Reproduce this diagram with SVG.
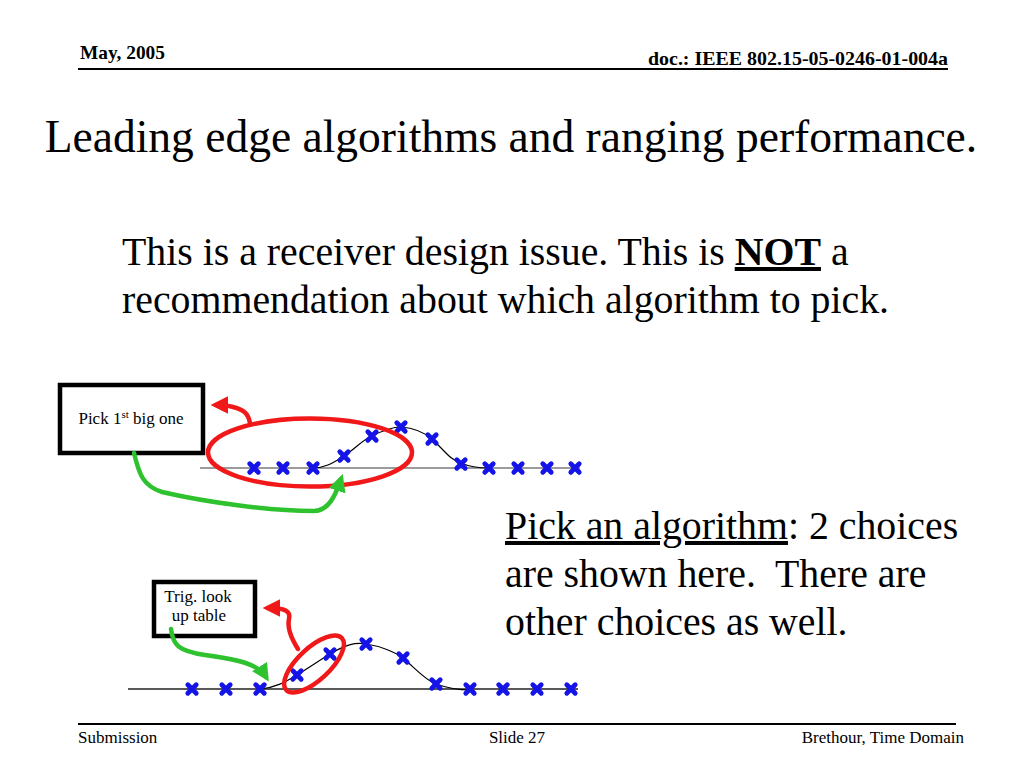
<svg xmlns="http://www.w3.org/2000/svg" xmlns:xlink="http://www.w3.org/1999/xlink" width="1024" height="768" viewBox="0 0 1024 768">
<style>
.t{font-family:"Liberation Serif","Times New Roman",serif;fill:#000;white-space:pre}
.hdr{font-size:19.5px;font-weight:bold}
.ftr{font-size:17px}
.title{font-size:45.5px}
.body{font-size:39.8px}
.lbl{font-size:17px}
.box{fill:#fff;stroke:#000;stroke-width:4.5}
.rule{stroke:#000;stroke-width:2}
.red{fill:none;stroke:#f01818;stroke-width:4.5;stroke-linecap:round;stroke-linejoin:round}
.green{fill:none;stroke:#2ec22e;stroke-width:4.5;stroke-linecap:round;stroke-linejoin:round}
.ell{fill:none;stroke:#f01818;stroke-width:4.5}
.sig{fill:none;stroke:#000;stroke-width:1.2}
</style>
<defs>
<path id="xm" d="M-4.2,-4.2 L4.2,4.2 M-4.2,4.2 L4.2,-4.2" stroke="#1414e6" stroke-width="4.8" stroke-linecap="round" fill="none"/>
<marker id="ar" viewBox="0 0 10 10" refX="7" refY="5" markerWidth="3.9" markerHeight="3.9" orient="auto">
<path d="M0,0 L10,5 L0,10 z" fill="#f01818"/>
</marker>
<marker id="ag" viewBox="0 0 10 10" refX="7" refY="5" markerWidth="3.9" markerHeight="3.9" orient="auto">
<path d="M0,0 L10,5 L0,10 z" fill="#2ec22e"/>
</marker>
</defs>
<rect width="1024" height="768" fill="#fff"/>

<g id="header">
<text class="t hdr" x="80" y="59" textLength="85" lengthAdjust="spacingAndGlyphs">May, 2005</text>
<text class="t hdr" x="648" y="65" textLength="300" lengthAdjust="spacingAndGlyphs">doc.: IEEE 802.15-05-0246-01-004a</text>
<line class="rule" x1="78" y1="69" x2="948" y2="69"/>
</g>

<g id="title">
<text class="t title" x="511" y="152" text-anchor="middle">Leading edge algorithms and ranging performance.</text>
</g>

<g id="statement">
<text class="t body" x="122" y="265">This is a receiver design issue. This is <tspan font-weight="bold" text-decoration="underline">NOT</tspan> a</text>
<text class="t body" x="122" y="313">recommendation about which algorithm to pick.</text>
</g>

<g id="choices">
<text class="t body" x="505" y="539"><tspan text-decoration="underline">Pick an algorithm</tspan>: 2 choices</text>
<text class="t body" x="505" y="587" xml:space="preserve">are shown here.  There are</text>
<text class="t body" x="505" y="635">other choices as well.</text>
</g>

<g id="plot1">
<line x1="200" y1="468" x2="580" y2="468" stroke="#7a7a7a" stroke-width="1.6"/>
<path class="sig" d="M313,468 C326,468 334,462 344,456 C355,449 362,440 372,436 C384,430 392,427 401,427 C414,428 425,433 432,439 C444,450 450,460 461,463 C470,467 480,468 489,468"/>
<use xlink:href="#xm" x="254" y="468"/>
<use xlink:href="#xm" x="283" y="468"/>
<use xlink:href="#xm" x="313" y="468"/>
<use xlink:href="#xm" x="344" y="456"/>
<use xlink:href="#xm" x="372" y="436"/>
<use xlink:href="#xm" x="401" y="427"/>
<use xlink:href="#xm" x="432" y="439"/>
<use xlink:href="#xm" x="461" y="464"/>
<use xlink:href="#xm" x="489" y="468"/>
<use xlink:href="#xm" x="518" y="468"/>
<use xlink:href="#xm" x="547" y="468"/>
<use xlink:href="#xm" x="575" y="468"/>
</g>

<g id="plot2">
<line x1="128" y1="689" x2="578" y2="689" stroke="#222" stroke-width="1.4"/>
<path class="sig" d="M260,689 C275,688 285,682 297,675 C310,667 320,660 330,654 C345,645 355,642 366,644 C380,646 395,652 403,658 C415,668 425,680 436,684 C450,689 460,690 470,690"/>
<use xlink:href="#xm" x="192" y="689"/>
<use xlink:href="#xm" x="226" y="689"/>
<use xlink:href="#xm" x="260" y="689"/>
<use xlink:href="#xm" x="297" y="675"/>
<use xlink:href="#xm" x="330" y="654"/>
<use xlink:href="#xm" x="366" y="644"/>
<use xlink:href="#xm" x="403" y="658"/>
<use xlink:href="#xm" x="436" y="684"/>
<use xlink:href="#xm" x="470" y="689"/>
<use xlink:href="#xm" x="503" y="689"/>
<use xlink:href="#xm" x="537" y="689"/>
<use xlink:href="#xm" x="571" y="689"/>
</g>

<g id="node-pick-first">
<rect class="box" x="60" y="385" width="143" height="68"/>
<text class="t lbl" x="131" y="424" text-anchor="middle">Pick 1<tspan font-size="11" dy="-6">st</tspan><tspan dy="6"> big one</tspan></text>
</g>

<g id="node-trig">
<rect class="box" x="154" y="582" width="101" height="54"/>
<text class="t lbl" x="198" y="602" text-anchor="middle">Trig. look</text>
<text class="t lbl" x="199" y="621" text-anchor="middle">up table</text>
</g>

<g id="connectors">
<ellipse class="ell" cx="310" cy="452.5" rx="102" ry="34"/>
<ellipse class="ell" cx="314" cy="664" rx="38" ry="16" transform="rotate(-43 314 664)"/>
<path class="red" d="M250,423 C248,413 244,410 233,407 C226,405 221,405 216,405" marker-end="url(#ar)"/>
<path class="green" d="M134,453 C139,474 143,486 162,492 C205,502 270,511 314,511 C329,511 336,494 341,479" marker-end="url(#ag)"/>
<path class="red" d="M298,649 C291,638 287,628 289,619 C291,611 285,608 268,608" marker-end="url(#ar)"/>
<path class="green" d="M171,629 C173,645 178,651 205,655 C240,660 258,664 266,677" marker-end="url(#ag)"/>
</g>

<g id="footer">
<line class="rule" x1="78" y1="724" x2="956" y2="724"/>
<text class="t ftr" x="78" y="743">Submission</text>
<text class="t ftr" x="517" y="743" text-anchor="middle">Slide 27</text>
<text class="t ftr" x="964" y="743" text-anchor="end">Brethour, Time Domain</text>
</g>
</svg>
